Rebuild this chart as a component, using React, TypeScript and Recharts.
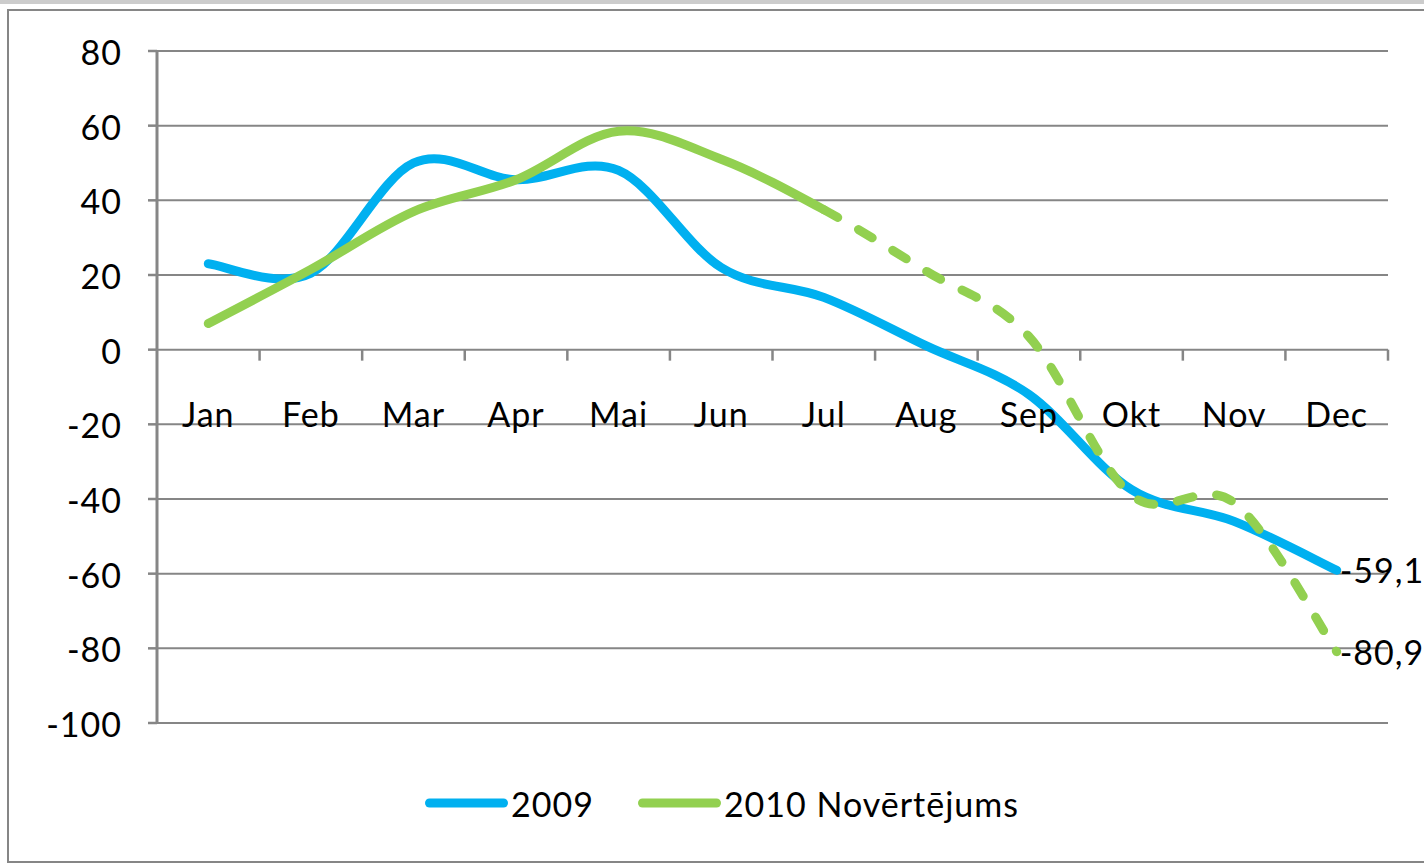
import React from 'react'
import { LineChart, Line, XAxis, YAxis, CartesianGrid, Legend, LabelList } from 'recharts'

// values
const months = ['Jan', 'Feb', 'Mar', 'Apr', 'Mai', 'Jun', 'Jul', 'Aug', 'Sep', 'Okt', 'Nov', 'Dec']
const values2009 = [23, 20.5, 50, 45.5, 48, 22, 14, 1, -12, -37.5, -46, -59.1]
const values2010 = [7, 21.5, 37, 45.5, 58.5, 51, 37.5, 21, 3.5, -39, -41, -80.9]
const yTicks = [-100, -80, -60, -40, -20, 0, 20, 40, 60, 80]
const estimateFrom = 'Jul' // 2010 is drawn dashed from here on

const data = months.map((m, i) => ({
  month: m,
  v2009: values2009[i],
  v2010: values2010[i],
  v2010est: values2010[i],
}))

const W = 1424
const H = 863
const MARGIN = { top: 51, right: 36, left: 17, bottom: 30 }
const YAXIS_W = 140
const XAXIS_H = 50
const LEGEND_H = 60
const PLOT_W = W - MARGIN.left - MARGIN.right - YAXIS_W
const PLOT_H = H - MARGIN.top - MARGIN.bottom - XAXIS_H - LEGEND_H
const Y_MIN = -100
const Y_MAX = 80
const Y0 = MARGIN.top + (PLOT_H * Y_MAX) / (Y_MAX - Y_MIN)
const BAND = PLOT_W / months.length

const FONT = 'Lato, "Liberation Sans", sans-serif'
const FONT_SIZE = 34
const SPACING = 1
const GRID = '#868686'
const BLUE = '#00B0F0'
const GREEN = '#92D050'

// Excel-like smoothed line (cardinal spline, 1/6 control points), drawing only segments from..to
const smoothCurve = (from: number, to: number) => (context: any) => {
  let pts: number[][] = []
  return {
    areaStart() {},
    areaEnd() {},
    lineStart() {
      pts = []
    },
    point(x: number, y: number) {
      pts.push([+x, +y])
    },
    lineEnd() {
      const n = pts.length
      const last = Math.min(to, n - 1)
      if (from > last) return
      context.moveTo(pts[from][0], pts[from][1])
      for (let i = from; i < last; i++) {
        const p0 = pts[Math.max(i - 1, 0)]
        const p1 = pts[i]
        const p2 = pts[i + 1]
        const p3 = pts[Math.min(i + 2, n - 1)]
        context.bezierCurveTo(
          p1[0] + (p2[0] - p0[0]) / 6,
          p1[1] + (p2[1] - p0[1]) / 6,
          p2[0] - (p3[0] - p1[0]) / 6,
          p2[1] - (p3[1] - p1[1]) / 6,
          p2[0],
          p2[1]
        )
      }
    },
  }
}

const split = months.indexOf(estimateFrom)

const XTick = (props: any) => {
  const { x, payload } = props
  return (
    <g>
      <line x1={x + BAND / 2} y1={Y0} x2={x + BAND / 2} y2={Y0 + 11} stroke={GRID} strokeWidth={2.5} />
      <text
        x={x}
        y={Y0 + 77}
        textAnchor="middle"
        fontFamily={FONT}
        fontSize={FONT_SIZE}
        letterSpacing={SPACING}
        fill="#000"
      >
        {payload.value}
      </text>
    </g>
  )
}

const endLabel = (props: any) => {
  const { x, y, value, index } = props
  if (index !== months.length - 1) return <g />
  return (
    <text x={x + 3} y={y + 13} fontFamily={FONT} fontSize={FONT_SIZE} letterSpacing={SPACING} fill="#000">
      {String(value).replace('.', ',')}
    </text>
  )
}

const renderLegend = (props: any) => {
  const items = (props.payload || []).filter((e: any) => e.type !== 'none')
  return (
    <div
      style={{
        height: LEGEND_H,
        display: 'flex',
        alignItems: 'center',
        paddingLeft: 425 - MARGIN.left,
        fontFamily: FONT,
        fontSize: FONT_SIZE,
        letterSpacing: SPACING,
        color: '#000',
      }}
    >
      {items.map((entry: any, i: number) => (
        <div key={i} style={{ display: 'flex', alignItems: 'center', marginRight: i < items.length - 1 ? 44 : 0 }}>
          <svg width={84} height={12}>
            <line x1={4.5} y1={6} x2={78.5} y2={6} stroke={entry.color} strokeWidth={9} strokeLinecap="round" />
          </svg>
          <span style={{ marginLeft: 2 }}>{entry.value}</span>
        </div>
      ))}
    </div>
  )
}

export default function App() {
  return (
    <div style={{ position: 'absolute', left: 0, top: 0, width: W, height: H, background: '#fff', overflow: 'hidden' }}>
      <div style={{ position: 'absolute', left: 0, top: 0, width: W, height: 4, background: '#cccccc' }} />
      <div
        style={{
          position: 'absolute',
          left: 7,
          top: 9,
          width: W + 20,
          height: H - 9,
          border: `2px solid ${GRID}`,
          boxSizing: 'border-box',
        }}
      />
      <div style={{ position: 'absolute', left: 0, top: 0 }}>
        <LineChart width={W} height={H} data={data} margin={MARGIN}>
          <CartesianGrid vertical={false} stroke={GRID} strokeWidth={2} />
          <XAxis
            dataKey="month"
            height={XAXIS_H}
            interval={0}
            axisLine={false}
            tickLine={false}
            padding={{ left: BAND / 2, right: BAND / 2 }}
            tick={<XTick />}
          />
          <YAxis
            width={YAXIS_W}
            domain={[Y_MIN, Y_MAX]}
            ticks={yTicks}
            interval={0}
            axisLine={{ stroke: GRID, strokeWidth: 3 }}
            tickLine={{ stroke: GRID, strokeWidth: 2.5 }}
            tickSize={9}
            tickMargin={26}
            tick={{ fill: '#000', fontFamily: FONT, fontSize: FONT_SIZE, letterSpacing: SPACING, dy: 2 }}
          />
          <Legend verticalAlign="bottom" content={renderLegend} />
          <Line
            dataKey="v2009"
            name="2009"
            stroke={BLUE}
            strokeWidth={9}
            strokeLinecap="round"
            type={smoothCurve(0, months.length - 1) as any}
            dot={false}
            activeDot={false}
            isAnimationActive={false}
          >
            <LabelList dataKey="v2009" content={endLabel} />
          </Line>
          <Line
            dataKey="v2010est"
            name="2010 Novērtējums (est.)"
            legendType="none"
            stroke={GREEN}
            strokeWidth={9}
            strokeLinecap="round"
            strokeDasharray="16 24"
            type={smoothCurve(split, months.length - 1) as any}
            dot={false}
            activeDot={false}
            isAnimationActive={false}
          >
            <LabelList dataKey="v2010est" content={endLabel} />
          </Line>
          <Line
            dataKey="v2010"
            name="2010 Novērtējums"
            stroke={GREEN}
            strokeWidth={9}
            strokeLinecap="round"
            type={smoothCurve(0, split) as any}
            dot={false}
            activeDot={false}
            isAnimationActive={false}
          />
        </LineChart>
      </div>
    </div>
  )
}
